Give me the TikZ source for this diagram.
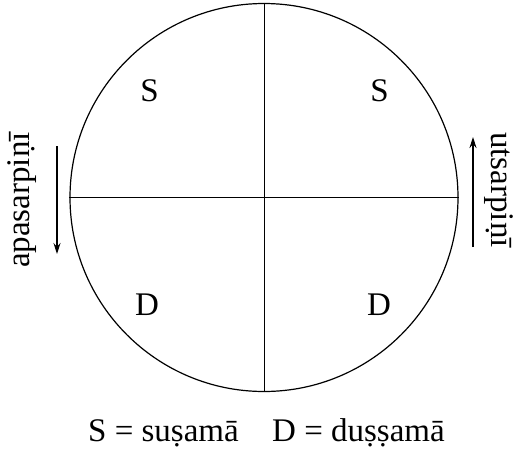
\documentclass[tikz,border=0pt]{standalone}
\usepackage{fontspec}
\setmainfont{Liberation Serif}
\usetikzlibrary{arrows.meta}
\begin{document}
\begin{tikzpicture}[x=1pt,y=-1pt,
  lbl/.style={font=\fontsize{33}{40}\selectfont, inner sep=0pt},
  rim/.style={draw, line width=1.2pt},
  axis/.style={line width=1pt},
  dirarrow/.style={line width=1.1pt, -{Stealth[length=11pt,width=7pt]}}]
\useasboundingbox (0,0) rectangle (515,451);
\node[circle, rim, inner sep=0pt, minimum size=388pt] (c) at (264,197.5) {};
\draw[axis] (c.north) -- (c.south);
\draw[axis] (c.west) -- (c.east);
\node[lbl, anchor=base] (s1) at (149.5,101) {S};
\node[lbl, anchor=base] (s2) at (379.5,101) {S};
\node[lbl, anchor=base] (d1) at (147,315) {D};
\node[lbl, anchor=base] (d2) at (379,315) {D};
\node[lbl, rotate=90] (apa) at (22,200) {apasarpiṇī};
\node[lbl, rotate=-90] (uts) at (498.5,190) {utsarpiṇī};
\coordinate (a1) at (57,146);
\coordinate (a2) at (57,254);
\coordinate (b1) at (473,247);
\coordinate (b2) at (473,137);
\draw[dirarrow] (a1) -- (a2);
\draw[dirarrow] (b1) -- (b2);
\node[lbl, anchor=base west] (leg1) at (88,441) {S = suṣamā};
\node[lbl, anchor=base west] (leg2) at (272,441) {D = duṣṣamā};
\end{tikzpicture}
\end{document}
